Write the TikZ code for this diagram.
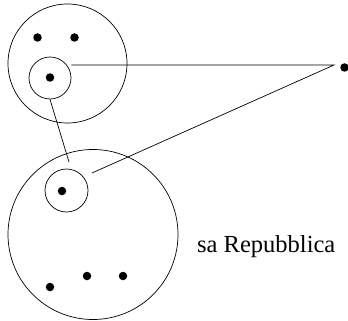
\documentclass[tikz,border=0pt]{standalone}
\usepackage{fontspec}
\setmainfont{Liberation Serif}
\begin{document}
\begin{tikzpicture}[x=1pt,y=-1pt,
  ring/.style={circle,draw,line width=0.7pt,inner sep=0pt},
  pt/.style={circle,fill=black,inner sep=0pt,minimum size=8.5pt},
  link/.style={line width=0.7pt}]
\useasboundingbox (0,0) rectangle (348,321);
% upper world
\node[ring,minimum size=119pt] (W1) at (67.5,63.5) {};
\node[pt] (a1) at (37.5,37.5) {};
\node[pt] (a2) at (74.5,37.5) {};
\node[ring,minimum size=42pt] (s1) at (50,78) {};
\node[pt] (a3) at (50,77.5) {};
% lower world
\node[ring,minimum size=170pt] (W2) at (93,234.5) {};
\node[ring,minimum size=43pt] (s2) at (66.5,190.5) {};
\node[pt] (b0) at (62,191) {};
\node[pt] (b1) at (50,287) {};
\node[pt] (b2) at (87,276) {};
\node[pt] (b3) at (123,276) {};
% isolated point and its connectors
\node[pt] (p) at (344.5,67.5) {};
\coordinate (q) at (334,65);
\coordinate (r) at (92,173);
\coordinate (t) at (69,162);
\draw[link] (s1.east |- 0,65) -- (q) -- (r);
\draw[link] (s1.south) -- (t);
% label
\node[anchor=base west,font=\fontsize{24.5}{26}\selectfont,inner sep=0pt] (lab) at (197,252.5) {sa Repubblica};
\end{tikzpicture}
\end{document}
